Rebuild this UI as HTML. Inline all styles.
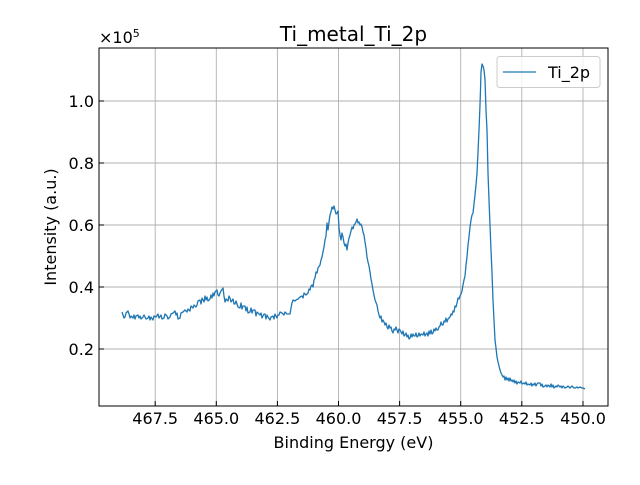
<!DOCTYPE html>
<html><head><meta charset="utf-8"><style>body{margin:0;background:#fff}</style></head><body>
<svg width="640" height="480" xmlns="http://www.w3.org/2000/svg" font-family="DejaVu Sans, Liberation Sans, sans-serif">
<rect width="640" height="480" fill="#fff"/>
<g stroke="#b0b0b0" stroke-width="0.9">
<line x1="155.2" y1="48" x2="155.2" y2="406"/><line x1="216.3" y1="48" x2="216.3" y2="406"/><line x1="277.4" y1="48" x2="277.4" y2="406"/><line x1="338.5" y1="48" x2="338.5" y2="406"/><line x1="399.6" y1="48" x2="399.6" y2="406"/><line x1="460.7" y1="48" x2="460.7" y2="406"/><line x1="521.8" y1="48" x2="521.8" y2="406"/><line x1="583" y1="48" x2="583" y2="406"/>
<line x1="99" y1="101" x2="608" y2="101"/><line x1="99" y1="163" x2="608" y2="163"/><line x1="99" y1="225" x2="608" y2="225"/><line x1="99" y1="287" x2="608" y2="287"/><line x1="99" y1="349" x2="608" y2="349"/>
</g>
<g stroke="#000" stroke-width="1">
<line x1="155.2" y1="406" x2="155.2" y2="401"/><line x1="216.3" y1="406" x2="216.3" y2="401"/><line x1="277.4" y1="406" x2="277.4" y2="401"/><line x1="338.5" y1="406" x2="338.5" y2="401"/><line x1="399.6" y1="406" x2="399.6" y2="401"/><line x1="460.7" y1="406" x2="460.7" y2="401"/><line x1="521.8" y1="406" x2="521.8" y2="401"/><line x1="583" y1="406" x2="583" y2="401"/>
<line x1="99" y1="101" x2="104" y2="101"/><line x1="99" y1="163" x2="104" y2="163"/><line x1="99" y1="225" x2="104" y2="225"/><line x1="99" y1="287" x2="104" y2="287"/><line x1="99" y1="349" x2="104" y2="349"/>
</g>
<polyline fill="none" stroke="#1f77b4" stroke-width="1.3" stroke-linejoin="round" points="122,312 123,315 124,318 125,317 126,313 127,312 128,311 129,314 130,318 131,316 133,318 134,315 135,319 136,316 138,315 139,318 140,316 141,319 143,317 144,315 146,319 148,318 149,316 150,320 151,317 153,320 154,316 156,317 158,314 159,318 161,315 162,319 164,318 165,314 167,316 168,319 170,317 171,314 173,313 175,311 176,315 177,313 178,319 180,318 181,313 183,312 185,310 187,312 188,309 190,311 191,306 193,308 194,305 196,307 197,305 198,301 200,300 201,304 202,298 204,302 205,296 206,300 207,297 208,301 210,299 211,295 212,298 213,293 214,296 215,292 217,290 218,295 219,296 220,293 221,291 223,288 224,296 225,302 226,299 228,301 229,296 230,298 231,302 233,299 234,304 235,304 236,301 238,307 240,308 241,303 242,309 243,306 245,306 246,311 247,307 248,313 250,312 251,308 252,313 253,310 255,310 256,316 257,312 258,313 260,315 261,313 262,318 264,314 265,314 266,319 267,315 268,317 270,320 271,317 273,316 274,319 275,314 277,318 278,315 279,315 280,312 282,313 284,315 285,312 287,314 290,314 291,308 292,303 293,300 295,301 296,300 298,299 300,297 302,296 303,298 304,293 306,295 308,293 309,289 310,290 311,286 312,285 313,287 314,280 315,278 316,272 317,273 318,268 320,265 321,260 322,257 323,252 324,247 325,240 326,236 327,223 328,230 329,222 330,215 331,212 332,207 333,209 334,206 335,210 336,214 337,213 338,211 339,228 340,235 341,240 342,233 343,237 344,243 345,246 346,244 347,250 348,243 349,238 350,235 351,231 352,227 353,229 354,225 355,224 356,222 357,219 358,223 359,222 360,225 361,224 362,227 363,232 364,235 365,242 366,248 367,257 368,262 369,266 370,272 371,279 372,284 373,290 374,295 375,300 377,305 378,311 379,315 380,318 381,316 382,322 383,320 384,322 385,325 386,323 387,327 388,329 389,325 390,328 391,327 392,331 393,333 394,329 395,330 396,327 397,330 398,333 399,329 400,330 401,332 402,334 403,331 404,336 405,335 406,333 407,337 408,335 409,339 410,338 411,334 412,337 413,334 414,336 415,336 416,333 417,337 418,336 419,333 420,336 421,334 423,335 424,332 425,336 426,334 427,333 428,336 429,331 430,334 431,330 432,334 433,333 434,329 435,331 436,328 437,330 438,330 439,327 440,326 441,322 442,325 443,325 444,321 445,322 446,318 447,322 448,319 450,317 451,314 452,315 453,311 454,312 455,306 456,307 457,303 458,298 459,299 460,296 461,294 462,291 463,285 464,280 465,276 466,265 467,257 468,245 469,237 470,227 471,220 472,215 473,213 474,204 475,195 476,185 477,173 478,152 479,130 480,105 480.5,90 481,72 482,64 483,66 484,70 485,80 486,110 487,130 488,173 489,200 490,225 491,250 492,273 493,300 494,320 495,340 496,348 497,357 498,362 499,366 500,370 501,373 502,375 503,377 504,376 505,380 506,377 507,380 508,378 509,381 510,378 511,381 512,380 513,382 514,380 515,383 516,381 517,384 518,382 520,383 521,381 522,384 524,383 525,384 526,382 527,385 528,384 530,385 531,383 532,386 533,384 534,385 535,383 536,386 537,384 538,383 540,383 541,386 542,384 543,387 545,386 546,385 547,387 548,385 550,387 551,384 552,387 553,385 554,388 556,386 557,387 558,385 560,387 561,386 562,388 563,386 565,388 567,387 568,386 570,388 572,386 574,388 575,388 577,387 578,388 580,387 582,388 583,388 585,389"/>
<rect x="99" y="48" width="509" height="358" fill="none" stroke="#000" stroke-width="1"/>
<g font-size="16" fill="#000" text-anchor="middle">
<text x="155.2" y="424">467.5</text><text x="216.3" y="424">465.0</text><text x="277.4" y="424">462.5</text><text x="338.5" y="424">460.0</text><text x="399.6" y="424">457.5</text><text x="460.7" y="424">455.0</text><text x="521.8" y="424">452.5</text><text x="583" y="424">450.0</text>
<text x="353.5" y="448">Binding Energy (eV)</text>
<text x="353.5" y="41" font-size="20">Ti_metal_Ti_2p</text>
</g>
<g font-size="16" fill="#000" text-anchor="end">
<text x="94" y="107">1.0</text><text x="94" y="169">0.8</text><text x="94" y="231">0.6</text><text x="94" y="293">0.4</text><text x="94" y="355">0.2</text>
</g>
<text x="99" y="43" font-size="16">×10<tspan font-size="11" dy="-6">5</tspan></text>
<text transform="translate(56,227) rotate(-90)" font-size="16" text-anchor="middle">Intensity (a.u.)</text>
<rect x="497" y="56.5" width="103" height="31" rx="3" fill="#fff" fill-opacity="0.8" stroke="#ccc"/>
<line x1="503" y1="72" x2="536" y2="72" stroke="#1f77b4" stroke-width="1.3"/>
<text x="548" y="78" font-size="16">Ti_2p</text>
</svg>
</body></html>
